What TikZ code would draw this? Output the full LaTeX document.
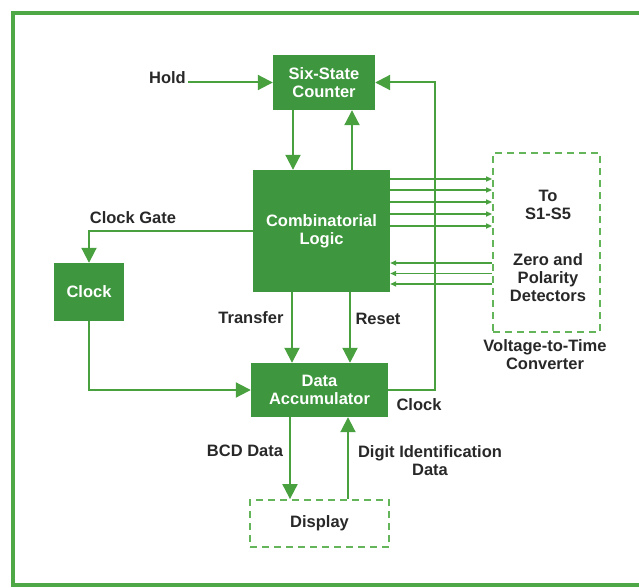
\documentclass[tikz,border=0pt]{standalone}
\usepackage{fontspec}
\setmainfont{Liberation Sans}
\usetikzlibrary{arrows.meta,calc}
\definecolor{boxg}{RGB}{62,150,62}
\definecolor{lineg}{RGB}{72,160,62}
\definecolor{frameg}{RGB}{78,168,70}
\definecolor{dashg}{RGB}{100,180,90}
\definecolor{txt}{RGB}{40,40,40}
\begin{document}
\begin{tikzpicture}[x=1pt,y=-1pt,
  font=\fontsize{16.5}{18}\selectfont\bfseries,
  blk/.style={draw=none,fill=boxg,text=white,align=center,inner sep=0pt},
  dbox/.style={draw=dashg,line width=1.8pt,dash pattern=on 7pt off 5pt,inner sep=0pt,align=center,text=txt},
  lbl/.style={text=txt,inner sep=0pt,align=center},
  arr/.style={draw=lineg,line width=2pt,-{Triangle[length=15pt,width=15pt]}},
  sarr/.style={draw=lineg,line width=1.6pt,-{Triangle[length=6pt,width=5pt]}}]
\useasboundingbox (0,0) rectangle (639,588);
% frame
\draw[frameg,line width=4.5pt] (660,585) -- (13,585) -- (13,13) -- (660,13);
% blocks
\node[blk,minimum width=102pt,minimum height=55pt] (counter) at (324,82.5) {Six-State\\Counter};
\node[blk,minimum width=137pt,minimum height=122pt] (logic) at (321.5,231) {Combinatorial\\Logic};
\node[blk,minimum width=70pt,minimum height=58pt] (clock) at (89,292) {Clock};
\node[blk,minimum width=137pt,minimum height=54pt] (acc) at (319.5,390) {Data\\Accumulator};
\node[dbox,minimum width=139pt,minimum height=47pt] (disp) at (319.5,523.5) {Display};
\node[dbox,minimum width=107pt,minimum height=179pt] (vtc) at (546.5,242.5) {};
\node[lbl] (to) at (548,205) {To\\S1-S5};
\node[lbl] (zero) at (548,278) {Zero and\\Polarity\\Detectors};
\node[lbl] (vtccap) at (545,355) {Voltage-to-Time\\Converter};
% labels
\node[lbl,anchor=east] (hold) at (186,78) {Hold};
\node[lbl] (cg) at (133,218) {Clock Gate};
\node[lbl] (tr) at (251,318) {Transfer};
\node[lbl] (rs) at (378,319) {Reset};
\node[lbl] (ck) at (419,405) {Clock};
\node[lbl] (bcd) at (245,451) {BCD Data};
\node[lbl] (dig) at (430,461) {Digit Identification\\Data};
% connectors
\coordinate (holdc) at (188,82.5);
\draw[arr] (holdc) -- (counter.west);
\draw[arr] ([xshift=-31pt]counter.south) -- ([xshift=-31pt]counter.south |- logic.north);
\draw[arr] ([xshift=28pt]counter.south |- logic.north) -- ([xshift=28pt]counter.south);
\draw[arr] (acc.east) -- ++(47,0) |- (counter.east);
\draw[arr] (logic.west) -| (clock.north);
\draw[arr] (clock.south) |- (acc.west);
\draw[arr] ([xshift=-29.5pt]logic.south) -- ([xshift=-29.5pt]logic.south |- acc.north);
\draw[arr] ([xshift=28.5pt]logic.south) -- ([xshift=28.5pt]logic.south |- acc.north);
\draw[arr] ([xshift=-29.5pt]acc.south) -- ([xshift=-29.5pt]acc.south |- disp.north);
\draw[arr] ([xshift=28.5pt]acc.south |- disp.north) -- ([xshift=28.5pt]acc.south);
\foreach \i/\y in {1/179,2/190,3/202,4/214,5/226}{
  \coordinate (so\i) at (0,\y);
  \draw[sarr] (logic.east |- so\i) -- (vtc.west |- so\i);
}
\foreach \i/\y in {1/263,2/273.5,3/284}{
  \coordinate (si\i) at (0,\y);
  \draw[sarr] (vtc.west |- si\i) -- (logic.east |- si\i);
}
\end{tikzpicture}
\end{document}
